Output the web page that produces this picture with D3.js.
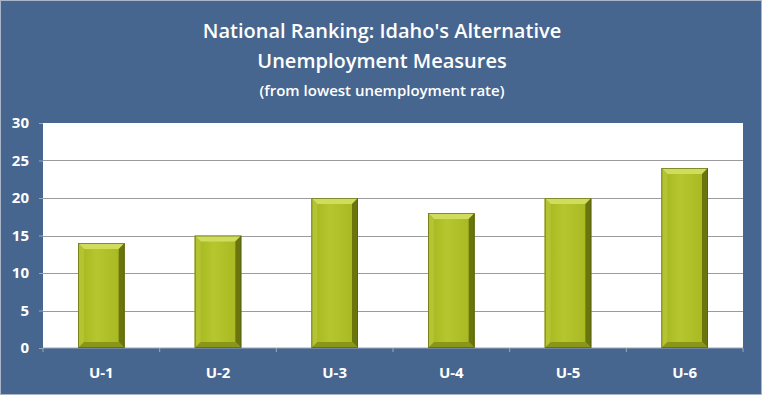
<!DOCTYPE html>
<meta charset="utf-8">
<style>
body { margin: 0; }
text { font-family: "Open Sans", sans-serif; fill: #fff; }
.title { font-weight: 600; }
.axis text { font-weight: bold; font-size: 15px; fill: #fff; }
.axis path { display: none; }
.axis line { stroke: #9aa6b8; }
</style>
<svg width="762" height="395"></svg>
<script src="https://d3js.org/d3.v7.min.js"></script>
<script>

var categories = ["U-1", "U-2", "U-3", "U-4", "U-5", "U-6"];
var ranking = [14, 15, 20, 18, 20, 24];
var yTicks = [0, 5, 10, 15, 20, 25, 30];
var titleLines = ["National Ranking: Idaho's Alternative", "Unemployment Measures"];
var subtitle = "(from lowest unemployment rate)";

var svg = d3.select("svg"),
    width = +svg.attr("width"),
    height = +svg.attr("height");

var margin = {top: 123, right: 19, bottom: 47, left: 43};
var plotW = width - margin.left - margin.right,
    plotH = height - margin.top - margin.bottom;

// background panel
svg.append("rect")
    .attr("x", 0.5).attr("y", 0.5)
    .attr("width", width - 1).attr("height", height - 1)
    .attr("fill", "#47668f")
    .attr("stroke", "#a9b6c8");

/************* TITLE ***************/
svg.append("text").attr("class", "title")
    .attr("x", width / 2 + 1).attr("y", 38)
    .attr("text-anchor", "middle")
    .style("font-size", "20px")
    .text(titleLines[0]);
svg.append("text").attr("class", "title")
    .attr("x", width / 2 + 1).attr("y", 68)
    .attr("text-anchor", "middle")
    .style("font-size", "20px")
    .text(titleLines[1]);
svg.append("text")
    .attr("x", width / 2 + 1).attr("y", 96)
    .attr("text-anchor", "middle")
    .style("font-size", "15px")
    .style("font-weight", "600")
    .text(subtitle);

var g = svg.append("g").attr("transform", "translate(" + margin.left + "," + margin.top + ")");

var x = d3.scaleBand().domain(categories).range([0, plotW]).paddingInner(0.6).paddingOuter(0.3);
var xCat = d3.scaleBand().domain(categories).range([0, plotW]);
var y = d3.scaleLinear().domain([0, 30]).range([plotH, 0]);

// plot area
g.append("rect")
    .attr("width", plotW).attr("height", plotH)
    .attr("fill", "#fff");

// gridlines
g.selectAll(".grid").data(yTicks.slice(1, -1)).enter().append("line")
    .attr("x1", 0).attr("x2", plotW)
    .attr("y1", function(d) { return Math.round(y(d)) + 0.5; })
    .attr("y2", function(d) { return Math.round(y(d)) + 0.5; })
    .attr("stroke", "#9b9b9b")
    .attr("stroke-width", 1);

/************* AXES ***************/
g.append("g").attr("class", "axis")
    .call(d3.axisLeft(y).tickValues(yTicks).tickSize(4).tickPadding(10));

// x axis: ticks between categories
var xAxis = g.append("g").attr("class", "axis")
    .attr("transform", "translate(0," + plotH + ")");
xAxis.append("line").attr("x1", 0).attr("x2", plotW).attr("stroke", "#c8ccd2");
xAxis.selectAll(".sep").data(categories.concat(["end"])).enter().append("line")
    .attr("x1", function(d, i) { return i * xCat.step(); })
    .attr("x2", function(d, i) { return i * xCat.step(); })
    .attr("y1", 0).attr("y2", 4);
xAxis.selectAll(".lbl").data(categories).enter().append("text")
    .attr("x", function(d) { return xCat(d) + xCat.bandwidth() / 2; })
    .attr("y", 30)
    .attr("text-anchor", "middle")
    .text(function(d) { return d; });

/************* BARS ***************/
var defs = svg.append("defs");
var grad = defs.append("linearGradient").attr("id", "barGrad")
    .attr("x1", "0").attr("x2", "1").attr("y1", "0").attr("y2", "0");
grad.append("stop").attr("offset", "0").attr("stop-color", "#a4b41c");
grad.append("stop").attr("offset", "0.4").attr("stop-color", "#b6c62e");
grad.append("stop").attr("offset", "1").attr("stop-color", "#a6b620");

var bev = 6;
var bars = g.selectAll(".bar").data(ranking).enter().append("g");

bars.append("rect")
    .attr("x", function(d, i) { return x(categories[i]); })
    .attr("y", function(d) { return y(d); })
    .attr("width", x.bandwidth())
    .attr("height", function(d) { return plotH - y(d); })
    .attr("fill", "url(#barGrad)");

function poly(pts) { return pts.map(function(p) { return p.join(","); }).join(" "); }

// top bevel
bars.append("polygon").attr("fill", "#cfdc5c")
    .attr("points", function(d, i) {
      var x0 = x(categories[i]), x1 = x0 + x.bandwidth(), t = y(d);
      return poly([[x0, t], [x1, t], [x1 - bev, t + bev], [x0 + bev, t + bev]]);
    });
// left bevel
bars.append("polygon").attr("fill", "#b4c332")
    .attr("points", function(d, i) {
      var x0 = x(categories[i]), t = y(d);
      return poly([[x0, t], [x0 + bev, t + bev], [x0 + bev, plotH - bev], [x0, plotH]]);
    });
// right bevel
bars.append("polygon").attr("fill", "#6a750e")
    .attr("points", function(d, i) {
      var x1 = x(categories[i]) + x.bandwidth(), t = y(d);
      return poly([[x1, t], [x1 - bev, t + bev], [x1 - bev, plotH - bev], [x1, plotH]]);
    });
// bottom bevel
bars.append("polygon").attr("fill", "#8a9618")
    .attr("points", function(d, i) {
      var x0 = x(categories[i]), x1 = x0 + x.bandwidth();
      return poly([[x0, plotH], [x0 + bev, plotH - bev], [x1 - bev, plotH - bev], [x1, plotH]]);
    });
// dark outline
bars.append("rect")
    .attr("x", function(d, i) { return x(categories[i]) + 0.5; })
    .attr("y", function(d) { return y(d) + 0.5; })
    .attr("width", x.bandwidth() - 1)
    .attr("height", function(d) { return plotH - y(d) - 1; })
    .attr("fill", "none")
    .attr("stroke", "#4e560c")
    .attr("stroke-opacity", 0.6);

</script>
